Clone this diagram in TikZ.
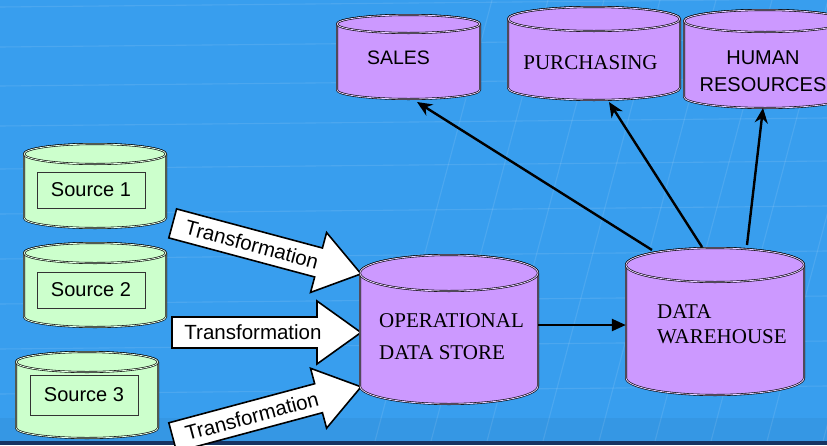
\documentclass[tikz,border=0pt]{standalone}
\usepackage{fontspec}
\setmainfont{Liberation Serif}
\setsansfont{Liberation Sans}
\usetikzlibrary{arrows.meta,calc}

\definecolor{bgblue}{RGB}{56,158,238}
\definecolor{dbpurple}{RGB}{204,153,255}
\definecolor{dbgreen}{RGB}{204,255,204}
\definecolor{stripdark}{RGB}{22,52,98}

\tikzset{
  gridline/.style={draw=white, opacity=0.10, line width=1.1pt},
  drumbody/.style={draw=black, line width=0.6pt, double=#1!45!white,
                   double distance=0.8pt, fill=#1, line join=round},
  srcbox/.style={draw=black!80, line width=0.6pt, fill=dbgreen,
                 font=\sffamily\fontsize{20}{24}\selectfont, inner sep=0pt},
  blockarrow/.style={draw=black, line width=1.6pt, fill=white, line join=miter},
  trlabel/.style={font=\sffamily\fontsize{20.5}{24}\selectfont, inner sep=0pt},
  sanslabel/.style={font=\sffamily\fontsize{19.5}{27}\selectfont, inner sep=0pt, align=center},
  seriflabel/.style={font=\rmfamily\fontsize{21}{32}\selectfont, inner sep=0pt, align=left},
  flow/.style={draw=black, line width=2.4pt, -{Stealth[length=15pt,width=13pt]}},
  feed/.style={draw=black, line width=2.4pt, -{Triangle[length=14pt,width=12pt]}}
}

% database drum: name, centre x, top y, bottom y, x radius, y radius, colour
\newcommand{\dbdrum}[7]{%
  \path[drumbody=#7] (#2-#5,#3) -- (#2-#5,#4)
    arc[start angle=180, end angle=0, x radius=#5, y radius=#6]
    -- (#2+#5,#3)
    arc[start angle=0, end angle=-180, x radius=#5, y radius=#6] -- cycle;
  \path[drumbody=#7] (#2,#3) ellipse[x radius=#5, y radius=#6];
  \node[inner sep=0pt, minimum width=2*#5, minimum height=#4-#3+2*#6] (#1)
    at (#2,{(#3+#4)/2}) {};
}

\begin{document}
\begin{tikzpicture}[x=1pt, y=-1pt]
\useasboundingbox (0,0) rectangle (827,445);
\clip (0,0) rectangle (827,445);

% backdrop with its faint grid
\fill[bgblue] (0,0) rectangle (827,445);
\foreach \yy in {3,43,82,122,165,210,255,300,345,390}
  \draw[gridline] (0,\yy+4) -- (827,\yy-4);
\foreach \xx in {386,442,...,890}
  \draw[gridline] ({\xx-12},445) -- ({\xx+106},0);
\fill[black, opacity=0.04] (0,418) rectangle (827,441);
\fill[stripdark] (0,441) rectangle (827,445);

% source databases
\dbdrum{src1}{95}{154}{218}{71}{10}{dbgreen}
\dbdrum{src2}{95}{253}{317}{71}{10}{dbgreen}
\dbdrum{src3}{87}{362}{428}{71}{10}{dbgreen}
\node[srcbox, minimum width=108, minimum height=36] (s1txt) at (91,190) {Source 1};
\node[srcbox, minimum width=108, minimum height=36] (s2txt) at (91,290) {Source 2};
\node[srcbox, minimum width=108, minimum height=40] (s3txt) at (84,395) {Source 3};

% transformation block arrows
\begin{scope}[shift={(172.7,223.4)}, rotate=-15]
  \path[blockarrow] (0,-15) -- (151,-15) -- (151,-31) -- (195,0)
    -- (151,31) -- (151,15) -- (0,15) -- cycle;
  \node[trlabel, rotate=-15] (tr1) at (82,0) {Transformation};
\end{scope}
\begin{scope}[shift={(172,332.5)}]
  \path[blockarrow] (0,-15.5) -- (145,-15.5) -- (145,-31.5) -- (189,0)
    -- (145,31.5) -- (145,15.5) -- (0,15.5) -- cycle;
  \node[trlabel] (tr2) at (81,0) {Transformation};
\end{scope}
\begin{scope}[shift={(172.7,437.3)}, rotate=15]
  \path[blockarrow] (0,-15) -- (151,-15) -- (151,-31) -- (195,0)
    -- (151,31) -- (151,15) -- (0,15) -- cycle;
  \node[trlabel, rotate=15] (tr3) at (82,0) {Transformation};
\end{scope}

% operational data store and warehouse
\dbdrum{ods}{449}{273}{386}{89}{18}{dbpurple}
\dbdrum{dw}{715}{265}{378}{89}{17}{dbpurple}
\node[seriflabel, anchor=west] (odstxt) at (379,337) {OPERATIONAL\\DATA STORE};
\node[seriflabel, anchor=west, font=\rmfamily\fontsize{21}{25}\selectfont] (dwtxt)
  at (657,324) {DATA\\WAREHOUSE};

% departmental marts
\dbdrum{sales}{408.5}{24}{90}{71.5}{9}{dbpurple}
\dbdrum{purch}{594}{19}{88}{86}{12}{dbpurple}
\dbdrum{hr}{765}{21}{97}{81}{11}{dbpurple}
\node[sanslabel] (salestxt) at (398.5,58) {SALES};
\node[seriflabel, font=\rmfamily\fontsize{21}{25}\selectfont] (purchtxt) at (590.5,62.5) {PURCHASING};
\node[sanslabel, font=\sffamily\fontsize{20}{27}\selectfont] (hrtxt) at (763,71.5) {HUMAN\\RESOURCES};

% flows
\draw[feed] (ods.east |- 0,325) -- (dw.west |- 0,325);
\coordinate (dwA) at (652,250);
\coordinate (dwB) at (702,247);
\coordinate (dwC) at (747,245);
\coordinate (salesIn) at (417,102);
\coordinate (purchIn) at (609,102);
\coordinate (hrIn) at (763,108);
\draw[flow] (dwA) -- (salesIn);
\draw[flow] (dwB) -- (purchIn);
\draw[flow] (dwC) -- (hrIn);
\end{tikzpicture}
\end{document}
